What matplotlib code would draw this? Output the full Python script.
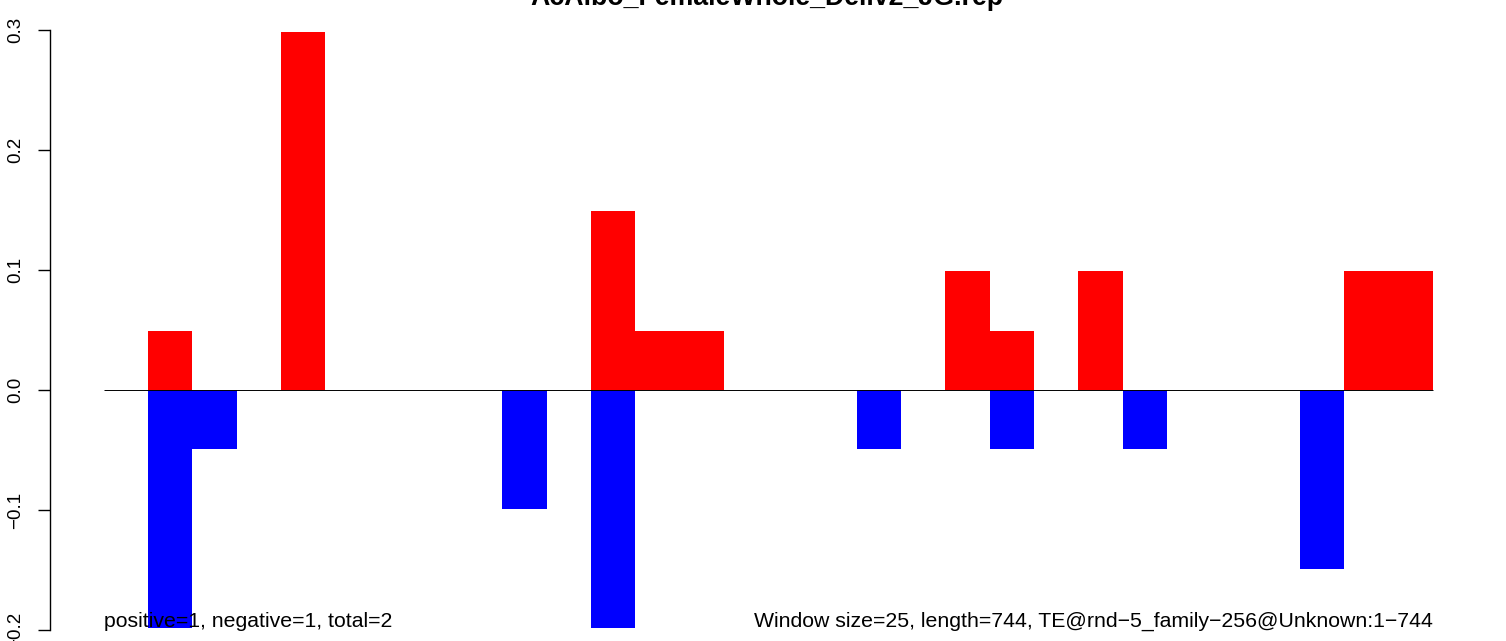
import matplotlib.pyplot as plt
import numpy as np

plt.rcParams["font.family"] = ["Liberation Sans", "DejaVu Sans"]

TITLE = "AcAlbo_FemaleWhole_Deliv2_JG.rep"
LEFT_NOTE = "positive=1, negative=1, total=2"
RIGHT_NOTE = "Window size=25, length=744, TE@rnd\u22125_family\u2212256@Unknown:1\u2212744"

# one value per window (30 windows of 25 bp)
pos_vals = [0, 0.0494, 0, 0, 0.298, 0, 0, 0, 0, 0,
            0, 0.1488, 0.0494, 0.0494, 0, 0, 0, 0, 0, 0.0988,
            0.0494, 0, 0.0988, 0, 0, 0, 0, 0, 0.0988, 0.0988]
neg_vals = [0, -0.1985, -0.0494, 0, 0, 0, 0, 0, 0, -0.0988,
            0, -0.1985, 0, 0, 0, 0, 0, -0.0494, 0, 0,
            -0.0494, 0, 0, -0.0494, 0, 0, 0, -0.1488, 0, 0]
yticks = [-0.2, -0.1, 0.0, 0.1, 0.2, 0.3]

W, H = 1506, 641
fig = plt.figure(figsize=(W / 100, H / 100), dpi=100)

# axes in pixel coords: left spine at x=50, plot to x=1490, full height
px0, px1 = 50, 1490
ax = fig.add_axes([px0 / W, 0, (px1 - px0) / W, 1])

n = len(pos_vals)
x = np.arange(n)
ax.bar(x, pos_vals, width=1.0, align="edge", color="#FF0000", linewidth=0)
ax.bar(x, neg_vals, width=1.0, align="edge", color="#0000FF", linewidth=0)
ax.hlines(0, 0, n, color="black", linewidth=0.7)

# mapping: data x=0 at pixel ~103.5, 44.3 px per window; y=0 at pixel 390, 1200 px per unit
xs = 44.3
x0 = 103.8
ax.set_xlim(-(x0 - px0) / xs, (px1 - x0) / xs)
ys = 1200.0
ax.set_ylim(-(H - 390) / ys, 390 / ys)

for s in ["top", "right", "bottom"]:
    ax.spines[s].set_visible(False)
ax.spines["left"].set_bounds(-0.2, 0.3)
ax.spines["left"].set_linewidth(1.0)
ax.set_xticks([])
ax.set_yticks(yticks)
ax.set_yticklabels([f"{v:.1f}".replace("-", "\u2212") for v in yticks],
                   rotation=90, va="center")
ax.tick_params(axis="y", length=8.5, width=1.0, pad=10, labelsize=13.5)

ax.text(0, -0.193, LEFT_NOTE, ha="left", va="center", fontsize=15.3)
ax.text(n, -0.193, RIGHT_NOTE, ha="right", va="center", fontsize=15.3)

fig.text(767 / W, 1 - 5 / H, TITLE, ha="center", va="baseline",
         fontsize=19.3, fontweight="bold")

fig.savefig("out.png", dpi=100)
